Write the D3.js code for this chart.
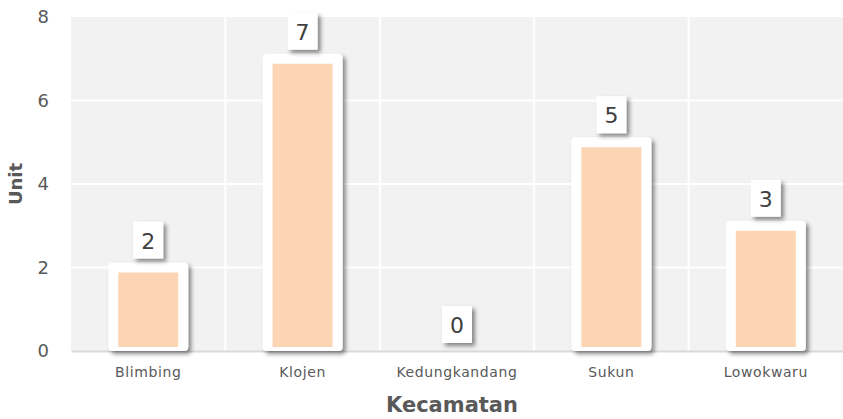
<!DOCTYPE html>
<html>
<head>
<meta charset="utf-8">
<script src="https://cdn.jsdelivr.net/npm/d3@7"></script>
<style>
  body { margin: 0; background: #fff; }
  text { font-family: "DejaVu Sans", "Lato", sans-serif; }
</style>
</head>
<body>
<div class="chart"></div>
<script>
var categories = ['Blimbing', 'Klojen', 'Kedungkandang', 'Sukun', 'Lowokwaru'];
var units = [2, 7, 0, 5, 3];
var yTicks = [0, 2, 4, 6, 8];

var width = 843, height = 419;
var mLeft = 71, mRight = 843, mTop = 17, mBottom = 351;

var svg = d3.select('.chart').append('svg').attr('width', width).attr('height', height);

//pair each category with its value
var rows = categories.map(function (c, i) { return { name: c, value: units[i] }; });

//drop shadow for bars and labels
var defs = svg.append('defs');
var f = defs.append('filter').attr('id', 'shadow').attr('x', '-20%').attr('y', '-20%').attr('width', '150%').attr('height', '150%');
f.append('feDropShadow').attr('dx', 3).attr('dy', 3).attr('stdDeviation', 2).attr('flood-color', '#000').attr('flood-opacity', 0.45);

var x = d3.scaleBand().domain(categories).range([mLeft, mRight]);
var y = d3.scaleLinear().domain([0, 8]).range([mBottom, mTop]);

//plot background
svg.append('rect').attr('x', mLeft).attr('y', mTop).attr('width', mRight - mLeft).attr('height', mBottom - mTop).attr('fill', '#f2f2f2');

//horizontal grid
svg.selectAll('.hgrid').data(yTicks.slice(1, 4)).enter().append('line')
  .attr('x1', mLeft).attr('x2', mRight)
  .attr('y1', function (d) { return y(d); }).attr('y2', function (d) { return y(d); })
  .attr('stroke', '#fff').attr('stroke-width', 2);

//vertical grid between categories
svg.selectAll('.vgrid').data(categories.slice(1)).enter().append('line')
  .attr('x1', function (d) { return x(d); }).attr('x2', function (d) { return x(d); })
  .attr('y1', mTop).attr('y2', mBottom)
  .attr('stroke', '#fff').attr('stroke-width', 2);

//y axis
var yAxis = d3.axisLeft(y).tickValues(yTicks).tickSize(0).tickPadding(14);
var yg = svg.append('g').attr('transform', 'translate(' + mLeft + ',0)').call(yAxis);
yg.select('.domain').remove();
yg.selectAll('text').attr('font-size', 18).attr('fill', '#595959').attr('dx', -8).attr('font-family', 'DejaVu Sans');

//x axis
var xAxis = d3.axisBottom(x).tickSize(0).tickPadding(16);
var xg = svg.append('g').attr('transform', 'translate(0,' + mBottom + ')').call(xAxis);
xg.select('.domain').attr('stroke', '#d9d9d9').attr('stroke-width', 2);
xg.selectAll('text').attr('font-size', 14).attr('fill', '#595959').attr('font-family', 'DejaVu Sans').attr('letter-spacing', 0.6);

//bars: white frame with peach fill
var bw = 80;
var nonzero = rows.filter(function (d) { return d.value > 0; });
var bars = svg.selectAll('.bar').data(nonzero).enter().append('g').attr('class', 'bar');
bars.append('rect')
  .attr('x', function (d) { return x(d.name) + x.bandwidth() / 2 - bw / 2; })
  .attr('y', function (d) { return y(d.value) - 5; })
  .attr('width', bw)
  .attr('height', function (d) { return mBottom - y(d.value) + 5; })
  .attr('rx', 4)
  .attr('fill', '#fff')
  .attr('filter', 'url(#shadow)');
bars.append('rect')
  .attr('x', function (d) { return x(d.name) + x.bandwidth() / 2 - bw / 2 + 10; })
  .attr('y', function (d) { return y(d.value) + 5; })
  .attr('width', bw - 20)
  .attr('height', function (d) { return mBottom - y(d.value) - 9; })
  .attr('fill', '#fcd5b5');

//value labels in white boxes
var labels = svg.selectAll('.lbl').data(rows).enter().append('g').attr('class', 'lbl')
  .attr('transform', function (d) {
    var cx = x(d.name) + x.bandwidth() / 2;
    var by = d.value > 0 ? y(d.value) - 9 : mBottom - 8;
    return 'translate(' + cx + ',' + by + ')';
  });
labels.append('rect').attr('x', -15).attr('y', -37).attr('width', 30).attr('height', 37)
  .attr('fill', '#fff').attr('filter', 'url(#shadow)');
labels.append('text').attr('text-anchor', 'middle').attr('y', -10)
  .attr('font-size', 22).attr('fill', '#404040').text(function (d) { return d.value; });

//axis titles
svg.append('text').attr('x', (mLeft + mRight) / 2 - 5).attr('y', 412).attr('text-anchor', 'middle')
  .attr('font-size', 21).attr('font-weight', 'bold').attr('fill', '#595959').text('Kecamatan');
svg.append('text').attr('transform', 'translate(22,' + (mTop + mBottom) / 2 + ') rotate(-90)')
  .attr('text-anchor', 'middle').attr('font-size', 18).attr('font-weight', 'bold').attr('fill', '#595959').text('Unit');
</script>
</body>
</html>
